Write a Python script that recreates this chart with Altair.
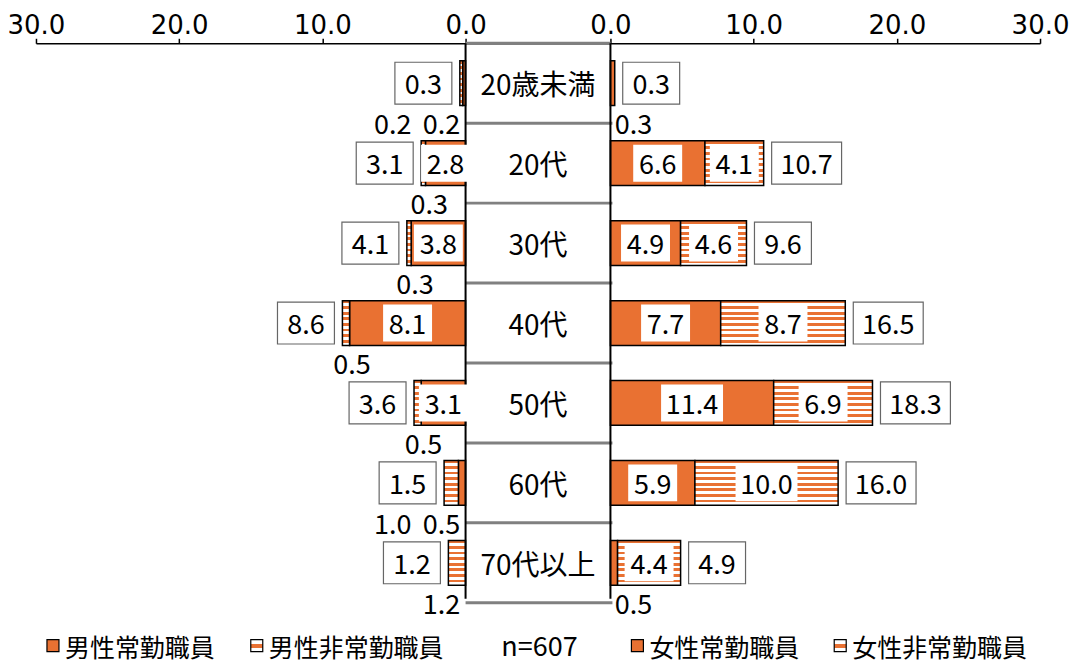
import altair as alt
import pandas as pd

categories = ["20歳未満", "20代", "30代", "40代", "50代", "60代", "70代以上"]
male_full = [0.2, 2.8, 3.8, 8.1, 3.1, 0.5, 0.0]
male_part = [0.2, 0.3, 0.3, 0.5, 0.5, 1.0, 1.2]
male_total = [0.3, 3.1, 4.1, 8.6, 3.6, 1.5, 1.2]
female_full = [0.3, 6.6, 4.9, 7.7, 11.4, 5.9, 0.5]
female_part = [0.0, 4.1, 4.6, 8.7, 6.9, 10.0, 4.4]
female_total = [0.3, 10.7, 9.6, 16.5, 18.3, 16.0, 4.9]
legend_labels = ["男性常勤職員", "男性非常勤職員", "女性常勤職員", "女性非常勤職員"]
legend_kinds = ["full", "part", "full", "part"]
sample_note = "n=607"
tick_steps = [0, 10, 20, 30]

# ---- layout / style ----
W, H = 1005, 560
PANEL = 430.0
GAP_PX = 145.0
PX = PANEL / 30.0           # pixels per unit
G2 = GAP_PX / PX / 2.0      # half-gap in data units
XMAX = 30 + G2
ORANGE = "#E97132"
GREY = "#808080"
FONT = "Noto Sans CJK JP"
AXFONT = "DejaVu Sans"
FS = 27
DY = 3


def stripes(n):
    stops = []
    for k in range(n):
        a, b, c = k / n, (k + 0.5) / n, (k + 1) / n
        stops += [{"offset": a, "color": ORANGE}, {"offset": b, "color": ORANGE},
                  {"offset": b, "color": "white"}, {"offset": c, "color": "white"}]
    return {"gradient": "linear", "x1": 0, "y1": 0, "x2": 0, "y2": 1, "stops": stops}


def legend_stripe():
    stops = [{"offset": 0, "color": "white"}, {"offset": 0.33, "color": "white"},
             {"offset": 0.33, "color": ORANGE}, {"offset": 0.67, "color": ORANGE},
             {"offset": 0.67, "color": "white"}, {"offset": 1, "color": "white"}]
    return {"gradient": "linear", "x1": 0, "y1": 0, "x2": 0, "y2": 1, "stops": stops}


xscale = alt.Scale(domain=[-XMAX, XMAX], nice=False, zero=False)
tick_vals = sorted([-(G2 + t) for t in tick_steps] + [G2 + t for t in tick_steps])
xaxis = alt.Axis(orient="top", values=tick_vals, title=None, grid=False,
                 labelExpr=f"format(abs(datum.value) - {G2}, '.1f')",
                 labelFont=AXFONT, labelFontSize=26, labelColor="black",
                 labelFlush=False, labelOverlap=False, labelPadding=0,
                 tickSize=5, tickColor="black", tickWidth=1.5,
                 domainColor="black", domainWidth=1.5)
yscale = alt.Scale(domain=categories, paddingInner=0.44, paddingOuter=0.22)


def X(field):
    return alt.X(field, type="quantitative", scale=xscale, axis=xaxis)


def XD(v):
    return alt.X(datum=v, type="quantitative", scale=xscale, axis=xaxis)


Y = alt.Y("cat:N", sort=categories, scale=yscale, axis=None)

# ---- bars ----
rows = []
for i, c in enumerate(categories):
    mf, mp, ff, fp = male_full[i], male_part[i], female_full[i], female_part[i]
    rows.append(dict(cat=c, kind="full", side="m", x0=-G2, x1=-G2 - mf, v=mf))
    rows.append(dict(cat=c, kind="part", side="m", x0=-G2 - mf, x1=-G2 - mf - mp, v=mp))
    rows.append(dict(cat=c, kind="full", side="f", x0=G2, x1=G2 + ff, v=ff))
    rows.append(dict(cat=c, kind="part", side="f", x0=G2 + ff, x1=G2 + ff + fp, v=fp))
bars = pd.DataFrame(rows)
bars = bars[bars.v > 0].reset_index(drop=True)
bars["xc"] = (bars.x0 + bars.x1) / 2
bars["t"] = bars.v.map(lambda v: f"{v:.1f}")

solid = alt.Chart(bars[bars.kind == "full"]).mark_bar(
    fill=ORANGE, stroke="black", strokeWidth=1.5).encode(x=X("x0"), x2="x1:Q", y=Y)
striped = alt.Chart(bars[bars.kind == "part"]).mark_bar(
    fill=stripes(8), stroke="black", strokeWidth=1.5).encode(x=X("x0"), x2="x1:Q", y=Y)

# inner labels (white background)
inner = bars[bars.v >= 2].copy()
inner["w"] = inner.t.str.len().map(lambda n: (49 if n <= 3 else 62) / PX)
inner["xa"] = inner.xc - inner.w / 2
inner["xb"] = inner.xc + inner.w / 2
inner_bg = alt.Chart(inner).mark_bar(size=37, fill="white").encode(x=X("xa"), x2="xb:Q", y=Y)
inner_txt = alt.Chart(inner).mark_text(font=FONT, fontSize=FS, baseline="middle", dy=DY).encode(
    x=X("xc"), y=Y, text="t:N")

# small outside labels
small_rows = []
for c in categories:
    sub = bars[(bars.cat == c) & (bars.v < 2)]
    for side in ["m", "f"]:
        prev = None
        for kind in ["full", "part"]:
            s = sub[(sub.side == side) & (sub.kind == kind)]
            if s.empty:
                continue
            r = s.iloc[0]
            if side == "m":
                pos = min(r.xc + 6 / PX, -G2 - 24 / PX)
                if prev is not None and pos > prev - 40 / PX:
                    pos = prev - 49 / PX
            else:
                pos = max(r.xc - 6 / PX, G2 + 23 / PX)
                if prev is not None and pos < prev + 40 / PX:
                    pos = prev + 49 / PX
            prev = pos
            small_rows.append(dict(cat=c, xs=pos, t=r.t))
small = pd.DataFrame(small_rows)
small_txt = alt.Chart(small).mark_text(font=FONT, fontSize=FS, baseline="middle", dy=43).encode(
    x=X("xs"), y=Y, text="t:N")

# totals in boxes
tot_rows = []
for i, c in enumerate(categories):
    mend = -G2 - male_full[i] - male_part[i]
    fend = G2 + female_full[i] + female_part[i]
    for side, end, val in [("m", mend, male_total[i]), ("f", fend, female_total[i])]:
        t = f"{val:.1f}"
        w = (57 if len(t) <= 3 else 70) / PX
        gap = 8 / PX
        if side == "m":
            xb = end - gap
            xa = xb - w
        else:
            xa = end + gap
            xb = xa + w
        tot_rows.append(dict(cat=c, xa=xa, xb=xb, xc=(xa + xb) / 2, t=t))
tots = pd.DataFrame(tot_rows)
tot_box = alt.Chart(tots).mark_bar(size=42, fill="white", stroke="#666666", strokeWidth=1.2).encode(
    x=X("xa"), x2="xb:Q", y=Y)
tot_txt = alt.Chart(tots).mark_text(font=FONT, fontSize=FS, baseline="middle", dy=DY).encode(
    x=X("xc"), y=Y, text="t:N")

# middle panel: separators, category names
cats = pd.DataFrame({"cat": categories})
seps = alt.Chart(cats).mark_rule(color=GREY, strokeWidth=3, yOffset=40).encode(
    x=XD(-G2), x2=alt.X2(datum=G2 + 2 / PX), y=Y)
top_sep = alt.Chart(cats.head(1)).mark_rule(color=GREY, strokeWidth=3).encode(
    x=XD(-G2), x2=alt.X2(datum=G2), y=alt.value(0))
vlines = alt.Chart(pd.DataFrame({"v": [-G2, G2]})).mark_rule(color="black", strokeWidth=2).encode(
    x=X("v"), y=alt.value(0), y2=alt.value(556))
cat_txt = alt.Chart(cats).mark_text(font=FONT, fontSize=28, baseline="middle", dy=DY + 1).encode(
    x=XD(0), y=Y, text="cat:N")

# legend
legend_layers = []
sq_x = [11, 215, 596, 799]
for lx, lab, kind in zip(sq_x, legend_labels, legend_kinds):
    fill = ORANGE if kind == "full" else legend_stripe()
    legend_layers.append(
        alt.Chart(pd.DataFrame({"t": [lab]})).mark_rect(fill=fill, stroke="black", strokeWidth=1.2).encode(
            x=alt.value(lx), x2=alt.value(lx + 12), y=alt.value(597), y2=alt.value(609)))
    legend_layers.append(
        alt.Chart(pd.DataFrame({"t": [lab]})).mark_text(font=FONT, fontSize=25, align="left", baseline="middle").encode(
            x=alt.value(lx + 18), y=alt.value(606), text="t:N"))
legend_layers.append(
    alt.Chart(pd.DataFrame({"t": [sample_note]})).mark_text(font=FONT, fontSize=27, align="center", baseline="middle").encode(
        x=alt.value(504), y=alt.value(605), text="t:N"))

chart = alt.layer(
    seps, top_sep, solid, striped, vlines, inner_bg, inner_txt, small_txt, tot_box, tot_txt, cat_txt,
    *legend_layers
).properties(
    width=W, height=H,
    autosize=alt.AutoSizeParams(type="none"),
    padding={"left": 28, "top": 35, "right": 29, "bottom": 61},
    background="white",
).configure_view(stroke=None)

chart.save("out.html", embed_options={"renderer": "svg", "actions": False})
